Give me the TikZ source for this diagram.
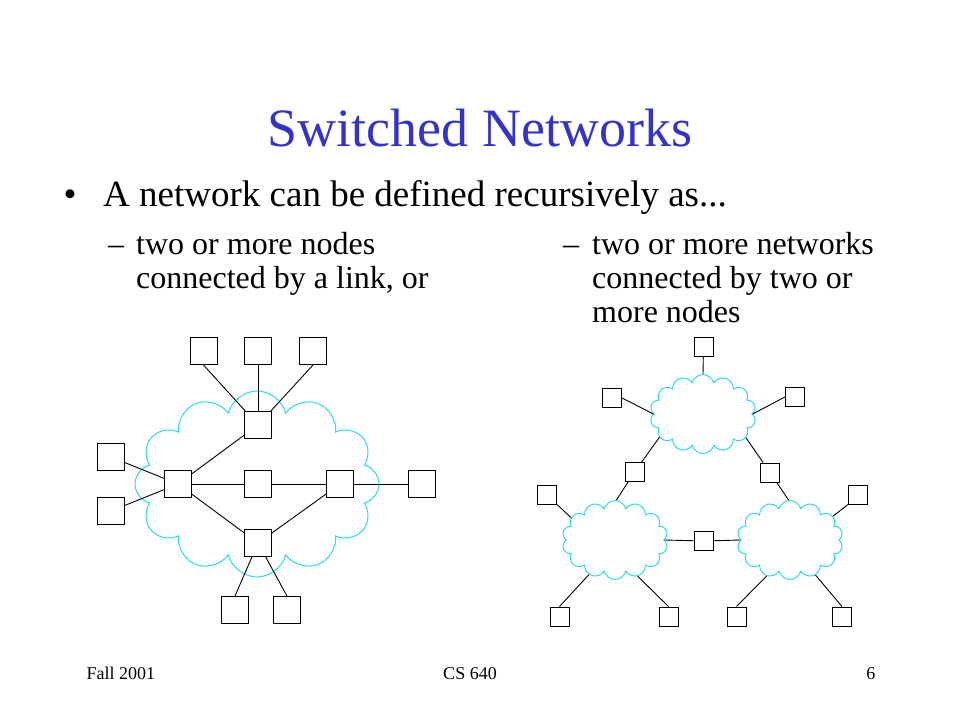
\documentclass[tikz,border=0pt]{standalone}
\usepackage{fontspec}
\setmainfont{Liberation Serif}
\usetikzlibrary{shapes.symbols}
\definecolor{titleblue}{RGB}{51,51,204}
\definecolor{netcyan}{RGB}{40,220,230}
\tikzset{
  host/.style={draw, fill=white, minimum size=27pt, inner sep=0pt, line width=1pt},
  sw/.style={draw, fill=white, minimum size=19pt, inner sep=0pt, line width=1pt},
  net/.style={cloud, draw=netcyan, line width=1pt, inner sep=0pt},
  link/.style={line width=0.9pt},
  subtext/.style={font=\fontsize{32}{34}\selectfont, anchor=base west},
  foot/.style={font=\fontsize{18}{20}\selectfont},
}
\begin{document}
\begin{tikzpicture}[x=1pt,y=-1pt]
    \useasboundingbox (0,0) rectangle (960,720);

    % title and bullets
    \node[font=\fontsize{54}{60}\selectfont, text=titleblue, anchor=base] (title) at (480,146) {Switched Networks};
    \node[font=\fontsize{37}{40}\selectfont, anchor=base] (dot) at (70,206) {\textbullet};
    \node[font=\fontsize{37}{40}\selectfont, anchor=base west, inner sep=0pt] (bullet) at (103,206) {A network can be defined recursively as...};
    \node[subtext, inner sep=0pt] (dashl) at (108,254) {--};
    \node[subtext, inner sep=0pt] (subla) at (136,254) {two or more nodes};
    \node[subtext, inner sep=0pt] (sublb) at (136,288) {connected by a link, or};
    \node[subtext, inner sep=0pt] (dashr) at (563,254) {--};
    \node[subtext, inner sep=0pt] (subra) at (592,254) {two or more networks};
    \node[subtext, inner sep=0pt] (subrb) at (592,288) {connected by two or};
    \node[subtext, inner sep=0pt] (subrc) at (592,322) {more nodes};

    % one network
    \node[net, cloud puffs=12, aspect=1.3, minimum width=244pt, minimum height=186pt] (bignet) at (257,484) {};
    \node[host] (t1) at (203.5,351) {};
    \node[host] (t2) at (258,351) {};
    \node[host] (t3) at (313,351) {};
    \node[host] (u) at (258,425) {};
    \node[host] (l) at (178,484) {};
    \node[host] (m) at (258,484) {};
    \node[host] (r) at (340,484) {};
    \node[host] (fr) at (422,484) {};
    \node[host] (fl1) at (111,457) {};
    \node[host] (fl2) at (111,511) {};
    \node[host] (bc) at (258,543) {};
    \node[host] (b1) at (235,610) {};
    \node[host] (b2) at (287,610) {};

    \draw[link] (t1.south) -- (u);
    \draw[link] (t2) -- (u);
    \draw[link] (t3.south) -- (u);
    \draw[link] (l) -- (u);
    \draw[link] (l) -- (m);
    \draw[link] (m) -- (r);
    \draw[link] (r) -- (fr);
    \draw[link] (l) -- (bc);
    \draw[link] (r) -- (bc);
    \draw[link] (fl1) -- (l);
    \draw[link] (fl2) -- (l);
    \draw[link] (bc) -- (b1.north);
    \draw[link] (bc) -- (b2.north);

    % network of networks
    \node[net, cloud puffs=14, aspect=1.35, minimum width=106pt, minimum height=79pt] (tc) at (703,414) {};
    \node[net, cloud puffs=14, aspect=1.35, minimum width=106pt, minimum height=79pt] (lc) at (615,540) {};
    \node[net, cloud puffs=14, aspect=1.35, minimum width=106pt, minimum height=79pt] (rc) at (790,540) {};
    \node[sw] (top) at (703.5,346.5) {};
    \node[sw] (tl) at (612,398) {};
    \node[sw] (tr) at (795,397) {};
    \node[sw] (ml) at (634.5,472) {};
    \node[sw] (mr) at (770,472.5) {};
    \node[sw] (mid) at (704,541) {};
    \node[sw] (ll) at (547,494.5) {};
    \node[sw] (rr) at (858,494.5) {};
    \node[sw] (s1) at (559.5,616.5) {};
    \node[sw] (s2) at (668.5,616.5) {};
    \node[sw] (s3) at (736.5,616.5) {};
    \node[sw] (s4) at (842,616.5) {};

    \draw[link] (top) -- (tc.90);
    \draw[link] (tl.east) -- (tc.180);
    \draw[link] (tr.west) -- (tc.0);
    \draw[link] (tc.208) -- (ml);
    \draw[link] (ml) -- (lc.88);
    \draw[link] (tc.-29) -- (mr);
    \draw[link] (mr) -- (rc.92);
    \draw[link] (lc.0) -- (mid);
    \draw[link] (mid) -- (rc.180);
    \draw[link] (ll.south east) -- (lc.153);
    \draw[link] (rr.south west) -- (rc.29);
    \draw[link] (s1.north) -- (lc.233);
    \draw[link] (s2.north) -- (lc.-58);
    \draw[link] (s3.north) -- (rc.237);
    \draw[link] (s4.north) -- (rc.-54);

    % footer
    \node[foot, anchor=base west] (term) at (83,679) {Fall 2001};
    \node[foot, anchor=base] (course) at (470,679) {CS 640};
    \node[foot, anchor=base east] (page) at (879,679) {6};
\end{tikzpicture}
\end{document}
